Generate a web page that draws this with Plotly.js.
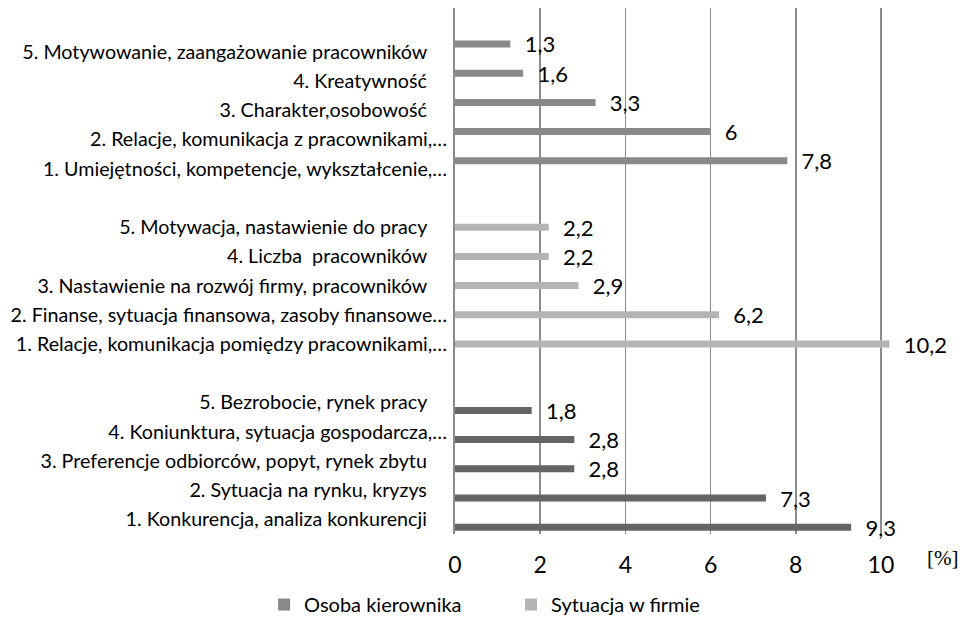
<!DOCTYPE html>
<html>
<head>
<meta charset="utf-8">
<script src="https://cdn.plot.ly/plotly-3.0.1.min.js"></script>
<style>html,body{margin:0;padding:0;background:#fff;}#chart{width:968px;height:617px;}</style>
</head>
<body>
<div id="chart"></div>
<script>
// ---- data ----
const catsKierownik = [
  "5. Motywowanie, zaangażowanie pracowników",
  "4. Kreatywność",
  "3. Charakter,osobowość",
  "2. Relacje, komunikacja z pracownikami,…",
  "1. Umiejętności, kompetencje, wykształcenie,…"
];
const valsKierownik = [1.3, 1.6, 3.3, 6, 7.8];

const catsFirma = [
  "5. Motywacja, nastawienie do pracy",
  "4. Liczba  pracowników",
  "3. Nastawienie na rozwój firmy, pracowników",
  "2. Finanse, sytuacja finansowa, zasoby finansowe…",
  "1. Relacje, komunikacja pomiędzy pracownikami,…"
];
const valsFirma = [2.2, 2.2, 2.9, 6.2, 10.2];

const catsOtoczenie = [
  "5. Bezrobocie, rynek pracy",
  "4. Koniunktura, sytuacja gospodarcza,…",
  "3. Preferencje odbiorców, popyt, rynek zbytu",
  "2. Sytuacja na rynku, kryzys",
  "1. Konkurencja, analiza konkurencji"
];
const valsOtoczenie = [1.8, 2.8, 2.8, 7.3, 9.3];

const seriesNames = ["Osoba kierownika", "Sytuacja w firmie", "Otoczenie"];
const xTicks = [0, 2, 4, 6, 8, 10];

// ---- build ----
const gapA = "gapA", gapB = "gapB";
const allCats = [].concat(catsKierownik, [gapA], catsFirma, [gapB], catsOtoczenie);
const tickText = allCats.map(c => {
  if (c === gapA || c === gapB) return "";
  return c.endsWith("…") ? c : c + "\u00a0\u00a0\u00a0\u00a0";
});

const colors = ["#898989", "#b4b4b4", "#646464"];
const barW = 0.24;
const offsets = [-0.27 - barW / 2, -barW / 2, 0.27 - barW / 2];
const pad = "\u00a0\u00a0";
function mk(i, cats, vals, showleg) {
  return {
    type: "bar", orientation: "h", name: seriesNames[i],
    y: cats, x: vals,
    width: barW, offset: offsets[i],
    marker: {color: colors[i]},
    text: vals.map(v => pad + String(v).replace(".", ",")),
    textposition: "outside",
    cliponaxis: false,
    constraintext: "none",
    textfont: {family: "Lato, sans-serif", size: 22, color: "#000"},
    showlegend: showleg,
    hoverinfo: "skip"
  };
}
const data = [
  mk(0, catsKierownik, valsKierownik, true),
  mk(1, catsFirma, valsFirma, true),
  mk(2, catsOtoczenie, valsOtoczenie, false)
];

const layout = {
  width: 968, height: 617,
  paper_bgcolor: "#fff", plot_bgcolor: "#fff",
  separators: ", ",
  margin: {l: 455, r: 70, t: 8, b: 83, autoexpand: false},
  barmode: "overlay",
  font: {family: "Lato, sans-serif", color: "#000"},
  xaxis: {
    range: [0, 10.4], tickvals: xTicks, ticktext: xTicks.map(String),
    showgrid: true, gridcolor: "#8c8c8c", gridwidth: 1.5,
    zeroline: false, showline: false, ticks: "",
    tickfont: {family: "Lato, sans-serif", size: 23, color: "#000"},
    ticklabelstandoff: 15, fixedrange: true
  },
  yaxis: {
    type: "category", categoryorder: "array", categoryarray: allCats,
    range: [16.5, -1.5], autorange: false,
    tickvals: allCats, ticktext: tickText,
    showgrid: false, zeroline: false,
    showline: true, linecolor: "#8c8c8c", linewidth: 2,
    ticks: "", ticklabelstandoff: 2,
    tickfont: {family: "Lato, sans-serif", size: 19.7, color: "#000"},
    fixedrange: true
  },
  legend: {
    orientation: "h", x: -0.431, xanchor: "left",
    y: -0.097, yanchor: "top",
    font: {family: "Lato, sans-serif", size: 20, color: "#000"},
    traceorder: "normal", entrywidth: 202, bgcolor: "rgba(0,0,0,0)"
  },
  annotations: [{
    text: "[%]", xref: "paper", yref: "paper",
    x: 1.10, y: -0.045, xanchor: "center", yanchor: "middle",
    showarrow: false,
    font: {family: "Liberation Serif, serif", size: 21, color: "#000"}
  }]
};

Plotly.newPlot("chart", data, layout, {staticPlot: true, displayModeBar: false});
</script>
</body>
</html>
